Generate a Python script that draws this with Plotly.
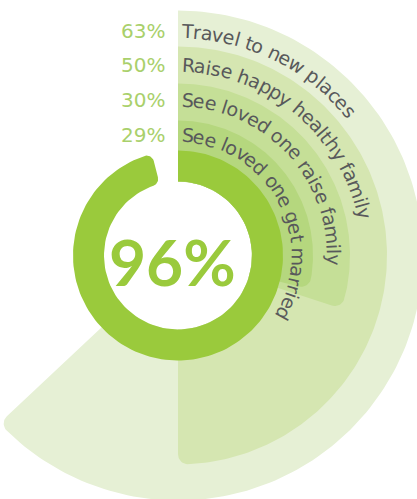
import math
import plotly.graph_objects as go

# ---- data ----
goals = ["Travel to new places", "Raise happy healthy family",
         "See loved one raise family", "See loved one get married"]
goal_pct = [63, 50, 30, 29]
overall_pct = 96

# ---- layout / style ----
X_RANGE = [-178, 239]
Y_RANGE = [-243.5, 255.5]
wedge_outer = [245, 209, 172, 135]
wedge_colors = ["#e6f0d5", "#d5e6b1", "#c5df97", "#b5d77e"]
label_r = [224.5, 190.5, 156, 120.5]
ring_in, ring_out = 74, 105
ring_color = "#9aca3c"
text_color = "#58595b"
pct_color = "#a9d06b"
LABEL_SIZE = 19

# DejaVu Sans advance widths (em)
W = {" ": .318, "a": .613, "b": .635, "c": .550, "d": .635, "e": .615, "f": .352,
     "g": .635, "h": .634, "i": .278, "l": .278, "m": .974, "n": .634, "o": .612,
     "p": .635, "r": .411, "s": .521, "t": .392, "v": .592, "w": .818, "y": .592,
     "T": .611, "R": .695, "S": .635}


def pt(r, th):
    # th: radians, clockwise from 12 o'clock
    return r * math.sin(th), r * math.cos(th)


def lin(a, b, n):
    return [a + (b - a) * i / (n - 1) for i in range(n)]


def fillet(cx, cy, rc, phi_a, phi_b, n=14):
    d = (phi_b - phi_a + math.pi) % (2 * math.pi) - math.pi
    return [(cx + rc * math.cos(phi_a + d * s), cy + rc * math.sin(phi_a + d * s))
            for s in lin(0, 1, n)]


def sector(r0, r1, pct, rc_out, rc_in=0.0):
    """Annular sector from 12 o'clock clockwise to pct of a turn, rounded at its end."""
    te = math.radians(pct * 3.6)
    pts = []
    ac = te - math.asin(rc_out / (r1 - rc_out))
    pts += [pt(r1, t) for t in lin(0, ac, 160)]
    cx, cy = pt(r1 - rc_out, ac)
    pts += fillet(cx, cy, rc_out, math.atan2(math.cos(ac), math.sin(ac)),
                  math.atan2(-math.sin(te), math.cos(te)))
    if rc_in > 0:
        ci = te - math.asin(rc_in / (r0 + rc_in))
        cx, cy = pt(r0 + rc_in, ci)
        pts += fillet(cx, cy, rc_in, math.atan2(-math.sin(te), math.cos(te)),
                      math.atan2(-math.cos(ci), -math.sin(ci)))
        pts += [pt(r0, t) for t in lin(ci, 0, 120)]
    else:
        pts += [pt(r0, t) for t in lin(te, 0, 120)]
    pts.append(pts[0])
    return [p[0] for p in pts], [p[1] for p in pts]


fig = go.Figure()

for pct, r1, col in zip(goal_pct, wedge_outer, wedge_colors):
    xs, ys = sector(ring_in, r1, pct, 10)
    fig.add_trace(go.Scatter(x=xs, y=ys, mode="lines", fill="toself", fillcolor=col,
                             line=dict(width=0, color=col), hoverinfo="skip"))

xs, ys = sector(ring_in, ring_out, overall_pct, 7, 7)
fig.add_trace(go.Scatter(x=xs, y=ys, mode="lines", fill="toself", fillcolor=ring_color,
                         line=dict(width=0, color=ring_color), hoverinfo="skip"))

annotations = []


def arc_text(text, r, size):
    s = 3.5  # arc length offset from 12 o'clock
    for ch in text:
        w = W[ch] * size
        th = (s + w / 2) / r
        if ch != " ":
            x, y = pt(r, th)
            annotations.append(dict(x=x, y=y, text=ch, showarrow=False,
                                    textangle=math.degrees(th),
                                    xanchor="center", yanchor="middle",
                                    font=dict(family="DejaVu Sans", size=size,
                                              color=text_color)))
        s += w


for g, p, r in zip(goals, goal_pct, label_r):
    arc_text(g, r, LABEL_SIZE)
    annotations.append(dict(x=-11, y=r, text=f"{p}%", showarrow=False,
                            xanchor="right", yanchor="middle",
                            font=dict(family="DejaVu Sans", size=20, color=pct_color)))

annotations.append(dict(x=-5.5, y=-5.5, text=f"{overall_pct}%", showarrow=False,
                        xanchor="center", yanchor="middle",
                        font=dict(family="Lato", size=64, weight="bold",
                                  color=ring_color)))

fig.update_layout(
    width=417, height=499,
    margin=dict(l=0, r=0, t=0, b=0),
    paper_bgcolor="white", plot_bgcolor="white",
    showlegend=False,
    xaxis=dict(range=X_RANGE, visible=False, fixedrange=True),
    yaxis=dict(range=Y_RANGE, visible=False, fixedrange=True),
    annotations=annotations,
)

fig.write_html("out.html")
